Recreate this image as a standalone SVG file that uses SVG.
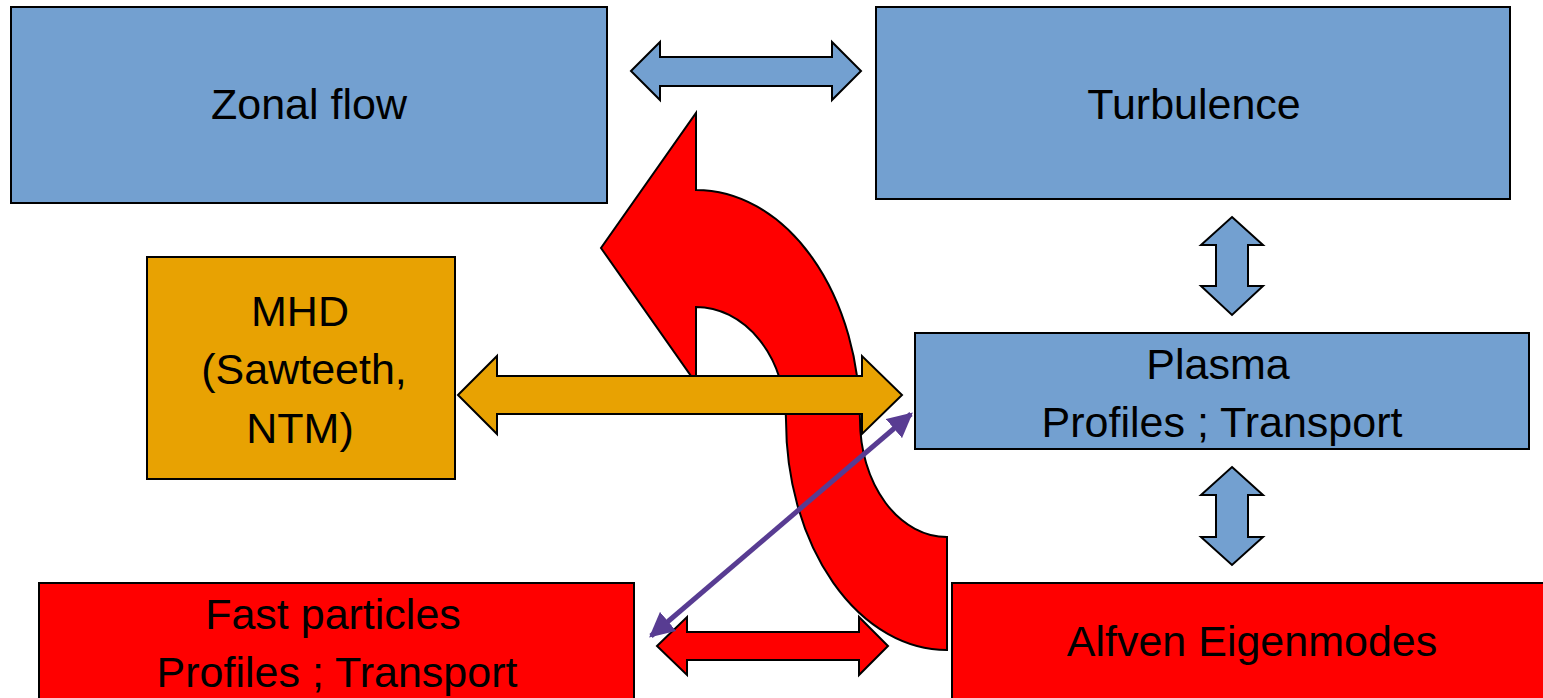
<svg xmlns="http://www.w3.org/2000/svg" width="1543" height="698" viewBox="0 0 1543 698">
<style>
.box{stroke:#000;stroke-width:2}
.blue{fill:#73A0D0}
.gold{fill:#E8A202}
.red{fill:#FF0000}
.shape{stroke:#000;stroke-width:2;stroke-linejoin:miter}
text{font-family:"Liberation Sans",Arial,sans-serif;font-size:43px;fill:#000;text-anchor:middle}
</style>
<defs>
<marker id="ph" viewBox="0 0 10 10" refX="9" refY="5" markerWidth="5" markerHeight="5" orient="auto-start-reverse" markerUnits="strokeWidth">
<path d="M0,0 L10,5 L0,10 Z" fill="#583C92"/>
</marker>
</defs>
<rect width="1543" height="698" fill="#fff"/>
<g id="zonal-flow">
<rect class="box blue" x="11" y="7" width="596" height="196"/>
<text x="309" y="119">Zonal flow</text>
</g>
<g id="turbulence">
<rect class="box blue" x="876" y="7" width="634" height="192"/>
<text x="1194" y="119">Turbulence</text>
</g>
<g id="mhd">
<rect class="box gold" x="147" y="257" width="308" height="222"/>
<text x="300" y="326">MHD</text>
<text x="304" y="384">(Sawteeth,</text>
<text x="300" y="443">NTM)</text>
</g>
<g id="plasma">
<rect class="box blue" x="915" y="333" width="614" height="116"/>
<text x="1218" y="379">Plasma</text>
<text x="1222" y="437">Profiles ; Transport</text>
</g>
<g id="fast-particles">
<rect class="box red" x="39" y="583" width="595" height="125"/>
<text x="333" y="629">Fast particles</text>
<text x="337" y="687">Profiles ; Transport</text>
</g>
<g id="alfven">
<rect class="box red" x="952" y="583" width="600" height="125"/>
<text x="1252" y="656">Alfven Eigenmodes</text>
</g>
<g id="connectors">
<path class="shape blue" d="M631,71 L660,42 L660,57 L832,57 L832,42 L861,71 L832,100 L832,86 L660,86 L660,100 Z"/>
<path class="shape blue" d="M1232,217 L1263,245 L1248,245 L1248,286 L1263,286 L1232,315 L1201,286 L1216,286 L1216,245 L1201,245 Z"/>
<path class="shape blue" d="M1232,467 L1263,495 L1248,495 L1248,537 L1263,537 L1232,565 L1201,537 L1216,537 L1216,495 L1201,495 Z"/>
<path class="shape red" d="M657,646 L687,617 L687,632 L859,632 L859,617 L888,646 L859,675 L859,660 L687,660 L687,675 Z"/>
<path class="shape red" d="M947,650 L947,537 A87,117 0 0 1 860,420 A164,230 0 0 0 696,190 L696,113 L601,248 L696,383 L696,307 A90,113 0 0 1 786,420 A161,230 0 0 0 947,650 Z"/>
<path class="shape gold" d="M458,395 L497,356 L497,376 L862,376 L862,356 L902,395 L862,434 L862,414 L497,414 L497,434 Z"/>
<line x1="651" y1="636" x2="911" y2="414" stroke="#583C92" stroke-width="5" marker-start="url(#ph)" marker-end="url(#ph)"/>
</g>
</svg>
